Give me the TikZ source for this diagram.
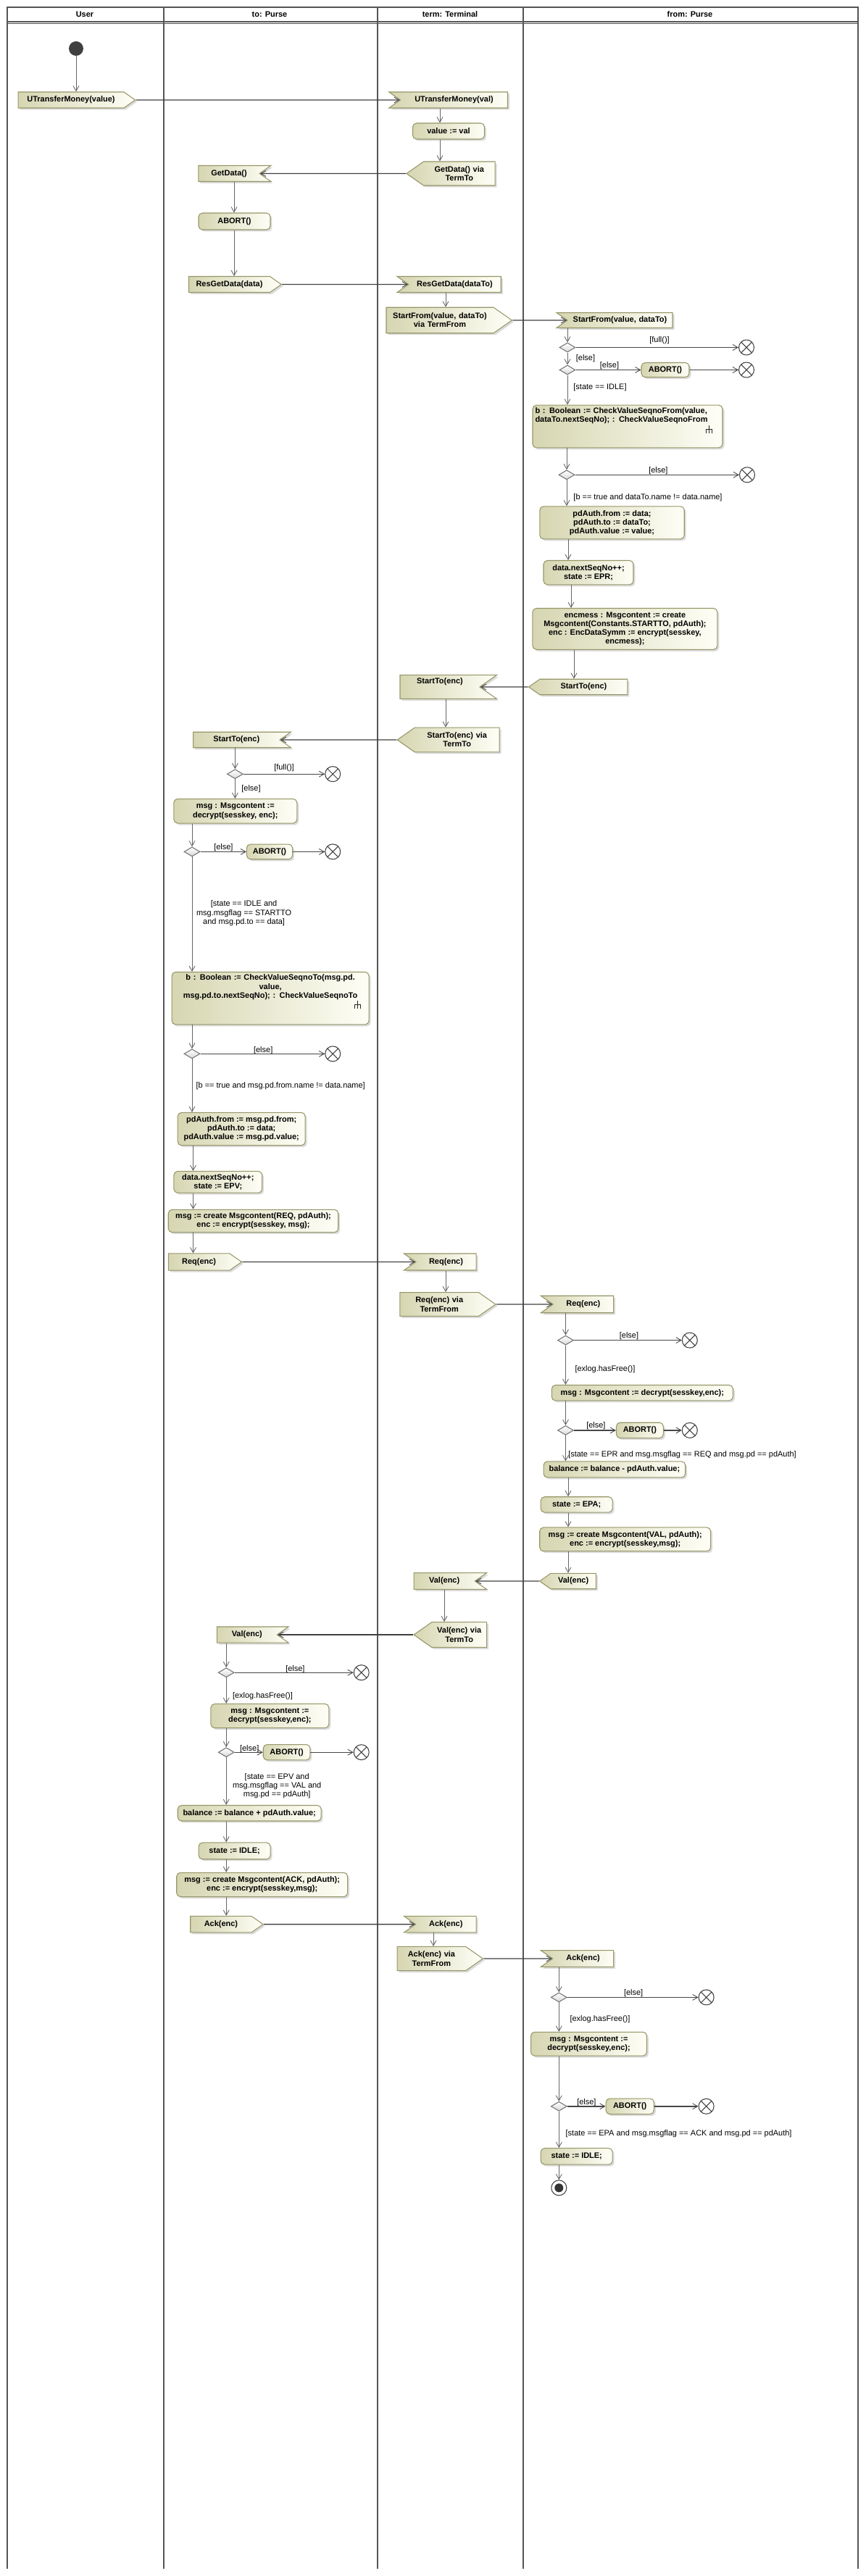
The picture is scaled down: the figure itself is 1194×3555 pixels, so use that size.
\documentclass[tikz,border=0pt]{standalone}
\usepackage{fontspec}
\newfontfamily\umlsans{Liberation Sans}
\usetikzlibrary{shapes.geometric,shapes.symbols,shadows,arrows.meta}
\definecolor{laneline}{RGB}{85,85,85}
\definecolor{actedge}{RGB}{150,150,104}
\definecolor{actdark}{RGB}{214,214,178}
\definecolor{actlight}{RGB}{254,254,246}

\begin{document}
\begin{tikzpicture}[x=0.02cm,y=-0.02cm,
	every node/.style={font=\umlsans\fontsize{6.24pt}{6.9pt}\selectfont},
	lanehead/.style={font=\umlsans\fontsize{6.24pt}{6.9pt}\selectfont\bfseries},
	guard/.style={inner sep=0pt, align=center},
	elem/.style={draw=actedge, line width=0.6pt, left color=actdark, right color=actlight,
		drop shadow={shadow xshift=0.05cm, shadow yshift=-0.05cm, fill=black!28},
		font=\umlsans\fontsize{6.24pt}{6.9pt}\selectfont\bfseries, inner sep=2pt},
	actbox/.style={elem, rounded corners=3pt, align=center},
	sigbox/.style={elem, signal, signal pointer angle=70, align=center},
	sendR/.style={sigbox, signal to=east},
	sendL/.style={sigbox, signal to=west},
	recvL/.style={sigbox, signal from=west, signal to=nowhere},
	recvR/.style={sigbox, signal from=east, signal to=nowhere},
	decision/.style={diamond, draw=black!55, line width=0.6pt, top color=white, bottom color=black!15,
		minimum width=0.44cm, minimum height=0.26cm, inner sep=0pt},
	flowfinal/.style={circle, draw=black!75, fill=white, line width=0.6pt, minimum size=0.42cm, inner sep=0pt,
		path picture={\draw[black!75, line width=0.6pt] (path picture bounding box.south west) -- (path picture bounding box.north east)
			(path picture bounding box.north west) -- (path picture bounding box.south east);}},
	initnode/.style={circle, fill=black!75, minimum size=0.4cm, inner sep=0pt},
	finalnode/.style={circle, draw=black!75, fill=white, line width=0.6pt, minimum size=0.42cm, inner sep=0pt,
		path picture={\fill[black!80] (path picture bounding box.center) circle[radius=0.12cm];}},
	lane/.style={draw=laneline, line width=1.1pt},
	flow/.style={draw=black!60, line width=0.5pt, -{Straight Barb[length=4pt,width=4.5pt,line width=0.5pt]}},
	hflow/.style={draw=black!72, line width=0.8pt, -{Straight Barb[length=4pt,width=4.5pt,line width=0.5pt]}},
	sigflow/.style={draw=black!75, line width=0.8pt, -{Straight Barb[length=4pt,width=4.5pt,line width=0.5pt]}},
	rake/.style={draw=black!85, line width=0.9pt}]

\useasboundingbox (0,0) rectangle (1194,3555);

\draw[lane] (10,3545) -- (10,10) -- (1184,10) -- (1184,3545);
\draw[lane] (226,10) -- (226,3545);
\draw[lane] (521,10) -- (521,3545);
\draw[lane] (722,10) -- (722,3545);
\draw[lane] (10,30) -- (1184,30);
\draw[lane, line width=0.6pt] (10,32.5) -- (1184,32.5);

\path (117,20) node[lanehead] (hUser) {User}
		(372,20) node[lanehead] (hTo) {to: Purse}
		(621,20) node[lanehead] (hTerm) {term: Terminal}
		(952,20) node[lanehead] (hFrom) {from: Purse};

\path (105,67) node[initnode] (init) {}
		(98,138) node[sendR, minimum height=0.44cm, text width=2.775cm] (uTM) {UTransferMoney(value)}
		(626.5,138) node[recvL, minimum height=0.44cm, text width=2.82cm] (tUTM) {UTransferMoney(val)}
		(619,181) node[actbox, minimum width=1.98cm, minimum height=0.44cm] (tVal) {value := val}
		(633.8,239.5) node[sendL, minimum height=0.66cm, text width=1.83cm] (tGetD) {GetData() via\\TermTo}
		(316,239.5) node[recvR, minimum height=0.44cm, text width=1.545cm] (toGetD) {GetData()}
		(323.5,305.5) node[actbox, minimum width=1.98cm, minimum height=0.46cm] (toAbort0) {ABORT()}
		(316.5,392.5) node[sendR, minimum height=0.44cm, text width=2.1cm] (toRes) {ResGetData(data)}
		(627.5,392.5) node[recvL, minimum height=0.44cm, text width=2.41cm] (tRes) {ResGetData(dataTo)}
		(607,442) node[sendR, minimum height=0.71cm, text width=2.82cm] (tStartF) {StartFrom(value, dataTo)\\via TermFrom}
		(855.5,442) node[recvL, minimum height=0.42cm, text width=2.76cm] (fStart) {StartFrom(value, dataTo)}
		(783,479.5) node[decision] (fD1) {}
		(1030,479.5) node[flowfinal] (fX1) {}
		(783,510.5) node[decision] (fD2) {}
		(918,510.5) node[actbox, minimum width=1.32cm, minimum height=0.4cm] (fAbort1) {ABORT()}
		(1030,510.5) node[flowfinal] (fX2) {}
		(866,588.5) node[actbox, align=left, text width=5.1cm, text depth=0.877cm] (fCheck) {b : Boolean := CheckValueSeqnoFrom(value,\\dataTo.nextSeqNo); : CheckValueSeqnoFrom}
		(782,655.3) node[decision] (fD3) {}
		(1031,655.3) node[flowfinal] (fX3) {}
		(844.5,721.3) node[actbox, minimum width=3.99cm, minimum height=0.9cm] (fAuth) {pdAuth.from := data;\\pdAuth.to := dataTo;\\pdAuth.value := value;}
		(812,790.2) node[actbox, minimum width=2.48cm, minimum height=0.668cm] (fSeq) {data.nextSeqNo++;\\state := EPR;}
		(862.4,867.9) node[actbox, minimum width=5.1cm, minimum height=1.136cm] (fEnc) {encmess : Msgcontent := create\\Msgcontent(Constants.STARTTO, pdAuth);\\enc : EncDataSymm := encrypt(sesskey,\\encmess);}
		(805.4,948) node[sendL, minimum height=0.43cm, text width=2.28cm] (fStartTo) {StartTo(enc)}
		(607,948) node[recvR, minimum height=0.656cm, text width=2.06cm, text depth=0.353cm] (tStartTo) {StartTo(enc)}
		(630.7,1021) node[sendL, minimum height=0.672cm, text width=2.2cm] (tStartTo2) {StartTo(enc) via\\TermTo}
		(326.3,1021) node[recvR, minimum height=0.43cm, text width=2.25cm] (toStartTo) {StartTo(enc)}
		(324.4,1068.2) node[decision] (toD1) {}
		(459.2,1068.2) node[flowfinal] (toX1) {}
		(324.8,1119.3) node[actbox, minimum width=3.4cm, minimum height=0.67cm] (toDec) {msg : Msgcontent :=\\decrypt(sesskey, enc);}
		(265,1175.4) node[decision] (toD2) {}
		(372,1175.4) node[actbox, minimum width=1.264cm, minimum height=0.414cm] (toAbort1) {ABORT()}
		(459.2,1175.4) node[flowfinal] (toX2) {}
		(373.1,1377.7) node[actbox, text width=5.3cm, text depth=1.149cm] (toCheck) {b : Boolean := CheckValueSeqnoTo(msg.pd.\\value,\\msg.pd.to.nextSeqNo); : CheckValueSeqnoTo}
		(265,1454.3) node[decision] (toD3) {}
		(459.2,1454.3) node[flowfinal] (toX3) {}
		(333.2,1558) node[actbox, minimum width=3.52cm, minimum height=0.906cm] (toAuth) {pdAuth.from := msg.pd.from;\\pdAuth.to := data;\\pdAuth.value := msg.pd.value;}
		(300.8,1631.3) node[actbox, minimum width=2.436cm, minimum height=0.594cm] (toSeq) {data.nextSeqNo++;\\state := EPV;}
		(349.5,1685) node[actbox, minimum width=4.69cm, minimum height=0.628cm] (toReq) {msg := create Msgcontent(REQ, pdAuth);\\enc := encrypt(sesskey, msg);}
		(274.6,1741.5) node[sendR, minimum height=0.464cm, text width=1.55cm] (toReqS) {Req(enc)}
		(615.5,1741.5) node[recvL, minimum height=0.46cm, text width=1.525cm] (tReq) {Req(enc)}
		(606.2,1800) node[sendR, minimum height=0.656cm, text width=2.03cm] (tReq2) {Req(enc) via\\TermFrom}
		(804.9,1800) node[recvL, minimum height=0.47cm, text width=1.53cm] (fReq) {Req(enc)}
		(780.5,1849.6) node[decision] (fD4) {}
		(951.8,1849.6) node[flowfinal] (fX4) {}
		(886.3,1922.2) node[actbox, minimum width=5cm, minimum height=0.43cm] (fDec) {msg : Msgcontent := decrypt(sesskey,enc);}
		(780.5,1973.9) node[decision] (fD5) {}
		(882.9,1973.9) node[actbox, minimum width=1.296cm, minimum height=0.428cm] (fAbort2) {ABORT()}
		(951.8,1973.9) node[flowfinal] (fX5) {}
		(847.9,2027.9) node[actbox, minimum width=3.914cm, minimum height=0.442cm] (fBal) {balance := balance - pdAuth.value;}
		(795.7,2076.4) node[actbox, minimum width=1.98cm, minimum height=0.428cm] (fEPA) {state := EPA;}
		(862.7,2124.3) node[actbox, minimum width=4.72cm, minimum height=0.656cm] (fVal) {msg := create Msgcontent(VAL, pdAuth);\\enc := encrypt(sesskey,msg);}
		(791.2,2182) node[sendL, minimum height=0.428cm, text width=1.11cm] (fValS) {Val(enc)}
		(613.2,2182) node[recvR, minimum height=0.456cm, text width=1.545cm] (tValR) {Val(enc)}
		(633.7,2256) node[sendL, minimum height=0.694cm, text width=1.375cm] (tVal2) {Val(enc) via\\TermTo}
		(340.8,2256) node[recvR, minimum height=0.442cm, text width=1.52cm] (toValR) {Val(enc)}
		(312.2,2308.2) node[decision] (toD4) {}
		(498.7,2308.2) node[flowfinal] (toX4) {}
		(372.4,2368) node[actbox, minimum width=3.258cm, minimum height=0.664cm] (toDec2) {msg : Msgcontent :=\\decrypt(sesskey,enc);}
		(312.2,2418.2) node[decision] (toD5) {}
		(395.6,2418.2) node[actbox, minimum width=1.294cm, minimum height=0.428cm] (toAbort2) {ABORT()}
		(498.7,2418.2) node[flowfinal] (toX5) {}
		(344.2,2502.2) node[actbox, minimum width=3.96cm, minimum height=0.43cm] (toBal) {balance := balance + pdAuth.value;}
		(323.6,2554.3) node[actbox, minimum width=1.98cm, minimum height=0.456cm] (toIdle) {state := IDLE;}
		(361.7,2600.9) node[actbox, minimum width=4.72cm, minimum height=0.664cm] (toAck) {msg := create Msgcontent(ACK, pdAuth);\\enc := encrypt(sesskey,msg);}
		(304.9,2655.6) node[sendR, minimum height=0.45cm, text width=1.545cm] (toAckS) {Ack(enc)}
		(615.3,2655.6) node[recvL, minimum height=0.45cm, text width=1.53cm] (tAck) {Ack(enc)}
		(595.4,2703) node[sendR, minimum height=0.664cm, text width=1.75cm] (tAck2) {Ack(enc) via\\TermFrom}
		(804.6,2703) node[recvL, minimum height=0.456cm, text width=1.54cm] (fAck) {Ack(enc)}
		(771.3,2756.4) node[decision] (fD6) {}
		(974.6,2756.4) node[flowfinal] (fX6) {}
		(812.5,2820.7) node[actbox, minimum width=3.198cm, minimum height=0.656cm] (fDec2) {msg : Msgcontent :=\\decrypt(sesskey,enc);}
		(771.3,2906.8) node[decision] (fD7) {}
		(869.2,2906.8) node[actbox, minimum width=1.324cm, minimum height=0.43cm] (fAbort3) {ABORT()}
		(974.6,2906.8) node[flowfinal] (fX7) {}
		(795.7,2975.9) node[actbox, minimum width=1.98cm, minimum height=0.45cm] (fIdle) {state := IDLE;}
		(771.3,3019.3) node[finalnode] (fEnd) {};

\path (910,470) node[guard] (g1) {[full()]}
		(808,494.3) node[guard] (g2) {[else]}
		(841,505) node[guard] (g3) {[else]}
		(828,534.3) node[guard] (g4) {[state == IDLE]}
		(908.4,649.7) node[guard] (g5) {[else]}
		(894,686.6) node[guard] (g6) {[b == true and dataTo.name != data.name]}
		(392,1059.3) node[guard] (g7) {[full()]}
		(346.5,1088.2) node[guard] (g8) {[else]}
		(308.4,1169.3) node[guard] (g9) {[else]}
		(336.6,1260.2) node[guard] (g10) {[state == IDLE and\\msg.msgflag == STARTTO\\and msg.pd.to == data]}
		(363.2,1449.6) node[guard] (g11) {[else]}
		(387.2,1498.6) node[guard] (g12) {[b == true and msg.pd.from.name != data.name]}
		(868,1843.6) node[guard] (g13) {[else]}
		(835,1889.6) node[guard] (g14) {[exlog.hasFree()]}
		(822.4,1967.5) node[guard] (g15) {[else]}
		(941.5,2007.9) node[guard] (g16) {[state == EPR and msg.msgflag == REQ and msg.pd == pdAuth]}
		(407.4,2303.2) node[guard] (g17) {[else]}
		(362.5,2340.7) node[guard] (g18) {[exlog.hasFree()]}
		(344.2,2413.2) node[guard] (g19) {[else]}
		(382.2,2464.4) node[guard] (g20) {[state == EPV and\\msg.msgflag == VAL and\\msg.pd == pdAuth]}
		(874.1,2750.7) node[guard] (g21) {[else]}
		(828,2786.4) node[guard] (g22) {[exlog.hasFree()]}
		(809.4,2901.4) node[guard] (g23) {[else]}
		(936.6,2945) node[guard] (g24) {[state == EPA and msg.msgflag == ACK and msg.pd == pdAuth]};

\draw[rake] ([shift={(-19,-31)}]fCheck.south east) -- ++(0,5) -- ++(-4,0) -- ++(0,6) ++(4,-6) -- ++(0,6) ++(0,-6) -- ++(4,0) -- ++(0,6);
\draw[rake] ([shift={(-16,-33)}]toCheck.south east) -- ++(0,5) -- ++(-4,0) -- ++(0,6) ++(4,-6) -- ++(0,6) ++(0,-6) -- ++(4,0) -- ++(0,6);

\draw[flow] (init) -- (init |- uTM.north);
\draw[flow] (tUTM.south -| 607,0) -- (tVal.north -| 607,0);
\draw[flow] (tVal.south -| 607,0) -- (tGetD.north -| 607,0);
\draw[flow] (toGetD.south -| 323,0) -- (toAbort0.north -| 323,0);
\draw[flow] (toAbort0.south -| 323,0) -- (toRes.north -| 323,0);
\draw[flow] (tRes.south -| 615,0) -- (tStartF.north -| 615,0);
\draw[flow] (fStart.south -| fD1) -- (fD1);
\draw[flow] (fD1) -- (fD2);
\draw[flow] (fD2) -- (fD2 |- fCheck.north);
\draw[flow] (fCheck.south -| fD3) -- (fD3);
\draw[flow] (fD3) -- (fD3 |- fAuth.north);
\draw[flow] (fAuth.south -| 784,0) -- (fSeq.north -| 784,0);
\draw[flow] (fSeq.south -| 788,0) -- (fEnc.north -| 788,0);
\draw[flow] (fEnc.south -| 792,0) -- (fStartTo.north -| 792,0);
\draw[flow] (tStartTo.south -| 615,0) -- (tStartTo2.north -| 615,0);
\draw[flow] (toStartTo.south -| toD1) -- (toD1);
\draw[flow] (toD1) -- (toD1 |- toDec.north);
\draw[flow] (toDec.south -| toD2) -- (toD2);
\draw[flow] (toD2) -- (toD2 |- toCheck.north);
\draw[flow] (toCheck.south -| toD3) -- (toD3);
\draw[flow] (toD3) -- (toD3 |- toAuth.north);
\draw[flow] (toAuth.south -| 266.5,0) -- (toSeq.north -| 266.5,0);
\draw[flow] (toSeq.south -| 266.5,0) -- (toReq.north -| 266.5,0);
\draw[flow] (toReq.south -| 266.5,0) -- (toReqS.north -| 266.5,0);
\draw[flow] (tReq.south -| 615,0) -- (tReq2.north -| 615,0);
\draw[flow] (fReq.south -| fD4) -- (fD4);
\draw[flow] (fD4) -- (fD4 |- fDec.north);
\draw[flow] (fDec.south -| fD5) -- (fD5);
\draw[flow] (fD5) -- (fD5 |- fBal.north);
\draw[flow] (fBal.south -| 784,0) -- (fEPA.north -| 784,0);
\draw[flow] (fEPA.south -| 784,0) -- (fVal.north -| 784,0);
\draw[flow] (fVal.south -| 784,0) -- (fValS.north -| 784,0);
\draw[flow] (tValR.south -| 613,0) -- (tVal2.north -| 613,0);
\draw[flow] (toValR.south -| toD4) -- (toD4);
\draw[flow] (toD4) -- (toD4 |- toDec2.north);
\draw[flow] (toDec2.south -| toD5) -- (toD5);
\draw[flow] (toD5) -- (toD5 |- toBal.north);
\draw[flow] (toBal.south -| toD5) -- (toIdle.north -| toD5);
\draw[flow] (toIdle.south -| toD5) -- (toAck.north -| toD5);
\draw[flow] (toAck.south -| toD5) -- (toAckS.north -| toD5);
\draw[flow] (tAck.south -| 598,0) -- (tAck2.north -| 598,0);
\draw[flow] (fAck.south -| fD6) -- (fD6);
\draw[flow] (fD6) -- (fD6 |- fDec2.north);
\draw[flow] (fDec2.south -| fD7) -- (fD7);
\draw[flow] (fD7) -- (fD7 |- fIdle.north);
\draw[flow] (fIdle.south -| fEnd) -- (fEnd);

\draw[hflow] (fD1) -- (fX1);
\draw[hflow] (fD2) -- (fAbort1);
\draw[hflow] (fAbort1) -- (fX2);
\draw[hflow] (fD3) -- (fX3);
\draw[hflow] (toD1) -- (toX1);
\draw[hflow] (toD2) -- (toAbort1);
\draw[hflow] (toAbort1) -- (toX2);
\draw[hflow] (toD3) -- (toX3);
\draw[hflow] (fD4) -- (fX4);
\draw[hflow] (fD5) -- (fAbort2);
\draw[hflow] (fAbort2) -- (fX5);
\draw[hflow] (toD4) -- (toX4);
\draw[hflow] (toD5) -- (toAbort2);
\draw[hflow] (toAbort2) -- (toX5);
\draw[hflow] (fD6) -- (fX6);
\draw[hflow] (fD7) -- (fAbort3);
\draw[hflow] (fAbort3) -- (fX7);

\draw[sigflow] (uTM) -- (tUTM);
\draw[sigflow] (tGetD) -- (toGetD);
\draw[sigflow] (toRes) -- (tRes);
\draw[sigflow] (tStartF) -- (fStart);
\draw[sigflow] (fStartTo) -- (tStartTo);
\draw[sigflow] (tStartTo2) -- (toStartTo);
\draw[sigflow] (toReqS) -- (tReq);
\draw[sigflow] (tReq2) -- (fReq);
\draw[sigflow] (fValS) -- (tValR);
\draw[sigflow] (tVal2) -- (toValR);
\draw[sigflow] (toAckS) -- (tAck);
\draw[sigflow] (tAck2) -- (fAck);
\end{tikzpicture}
\end{document}
